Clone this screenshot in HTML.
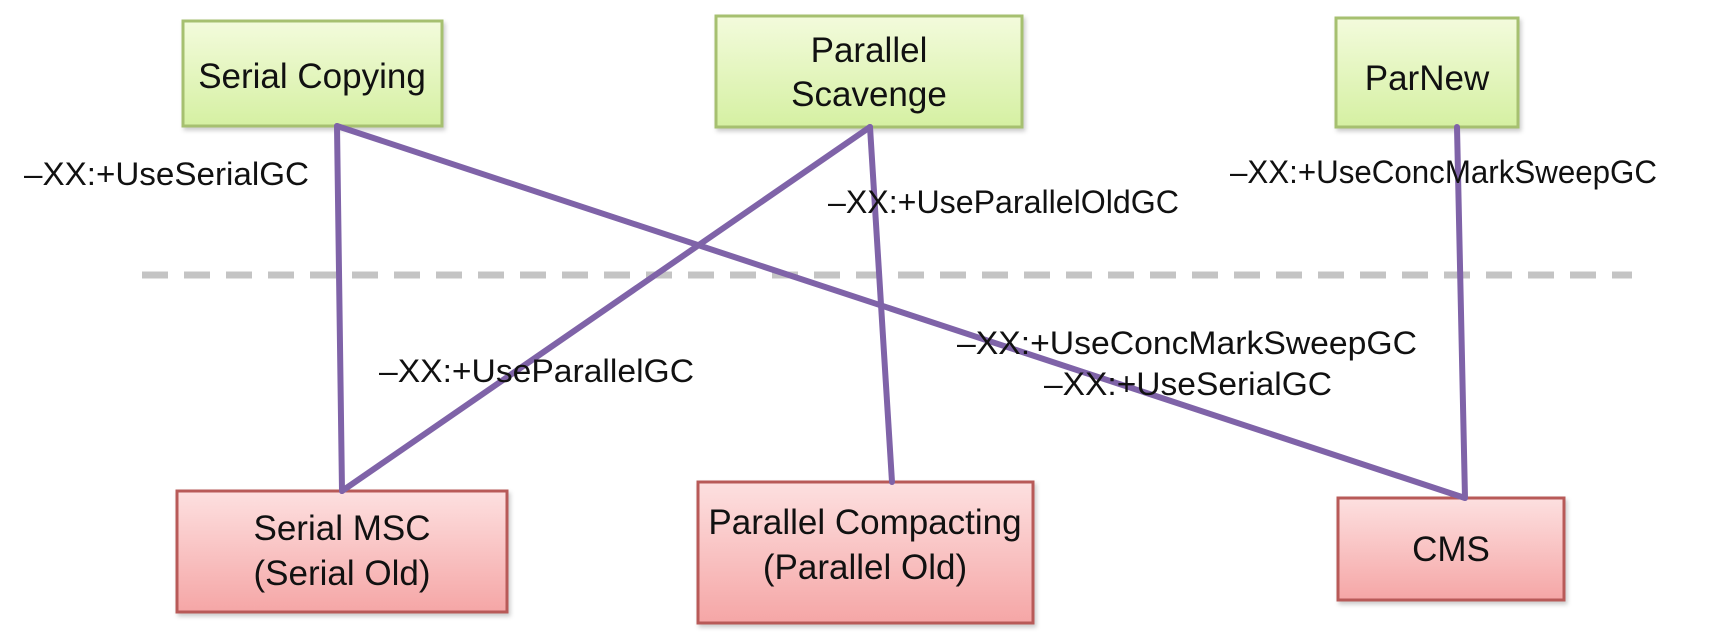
<!DOCTYPE html>
<html><head><meta charset="utf-8"><style>
html,body{margin:0;padding:0;background:#fff;}
svg{display:block;}
text{font-family:"Liberation Sans","DejaVu Sans",sans-serif;fill:#111;}
</style></head><body>
<svg width="1710" height="644" viewBox="0 0 1710 644" xmlns="http://www.w3.org/2000/svg">
<defs>
<linearGradient id="g" x1="0" y1="0" x2="0" y2="1"><stop offset="0" stop-color="#f3fbdc"/><stop offset="1" stop-color="#d5f0a2"/></linearGradient>
<linearGradient id="r" x1="0" y1="0" x2="0" y2="1"><stop offset="0" stop-color="#fde0e0"/><stop offset="1" stop-color="#f5a6a6"/></linearGradient>
<filter id="sh" x="-5%" y="-5%" width="115%" height="120%"><feDropShadow dx="2" dy="3" stdDeviation="2" flood-color="#000" flood-opacity="0.2"/></filter>
</defs>
<!-- dashed divider -->
<line x1="142" y1="275" x2="1632" y2="275" stroke="#c4c4c4" stroke-width="7" stroke-dasharray="26 16"/>
<!-- boxes -->
<g stroke-width="3" filter="url(#sh)">
<rect x="183" y="21" width="259" height="105" fill="url(#g)" stroke="#a6c070"/>
<rect x="716" y="16" width="306" height="111" fill="url(#g)" stroke="#a6c070"/>
<rect x="1336" y="18" width="182" height="109" fill="url(#g)" stroke="#a6c070"/>
<rect x="177" y="491" width="330" height="121" fill="url(#r)" stroke="#b85a58"/>
<rect x="698" y="482" width="335" height="141" fill="url(#r)" stroke="#b85a58"/>
<rect x="1338" y="498" width="226" height="102" fill="url(#r)" stroke="#b85a58"/>
</g>
<!-- connectors -->
<g stroke="#7f63a8" stroke-width="6" stroke-linecap="round" fill="none">
<line x1="337" y1="126" x2="342" y2="491"/>
<line x1="337" y1="126" x2="1465" y2="498"/>
<line x1="870" y1="127" x2="342" y2="491"/>
<line x1="870" y1="127" x2="892" y2="482"/>
<line x1="1457" y1="127" x2="1465" y2="498"/>
</g>
<!-- box labels -->
<g font-size="35" text-anchor="middle">
<text x="312" y="88">Serial Copying</text>
<text x="869" y="62">Parallel</text>
<text x="869" y="106">Scavenge</text>
<text x="1427" y="90">ParNew</text>
<text x="342" y="540">Serial MSC</text>
<text x="342" y="585">(Serial Old)</text>
<text x="865" y="534">Parallel Compacting</text>
<text x="865" y="579">(Parallel Old)</text>
<text x="1451" y="561">CMS</text>
</g>
<!-- flag labels -->
<g font-size="32">
<text x="24" y="185" textLength="285" lengthAdjust="spacingAndGlyphs">–XX:+UseSerialGC</text>
<text x="828" y="213" textLength="351" lengthAdjust="spacingAndGlyphs">–XX:+UseParallelOldGC</text>
<text x="1230" y="183" textLength="427" lengthAdjust="spacingAndGlyphs">–XX:+UseConcMarkSweepGC</text>
<text x="379" y="382" textLength="315" lengthAdjust="spacingAndGlyphs">–XX:+UseParallelGC</text>
<text x="957" y="354" textLength="460" lengthAdjust="spacingAndGlyphs">–XX:+UseConcMarkSweepGC</text>
<text x="1044" y="395" textLength="288" lengthAdjust="spacingAndGlyphs">–XX:+UseSerialGC</text>
</g>
</svg>
</body></html>
